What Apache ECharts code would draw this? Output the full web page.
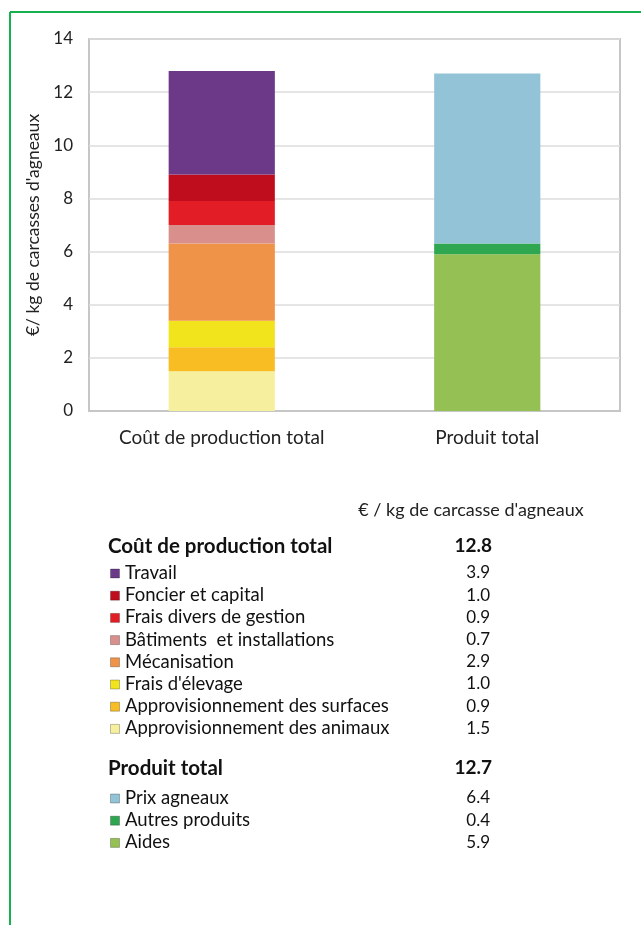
<!DOCTYPE html>
<html>
<head>
<meta charset="utf-8">
<script src="https://cdn.jsdelivr.net/npm/echarts@6/dist/echarts.min.js"></script>
<style>
  html, body { margin: 0; padding: 0; background: #fff; }
  #chart { width: 641px; height: 925px; }
</style>
</head>
<body>
<div id="chart"></div>
<script>
var categories = ['Coût de production total', 'Produit total'];

// cost items, bottom of the stack first
var costNames = ['Approvisionnement des animaux', 'Approvisionnement des surfaces', "Frais d'élevage",
    'Mécanisation', 'Bâtiments  et installations', 'Frais divers de gestion', 'Foncier et capital', 'Travail'];
var costValues = [1.5, 0.9, 1.0, 2.9, 0.7, 0.9, 1.0, 3.9];
var costColors = ['#f6f09e', '#f8bd22', '#f1e41c', '#ef9348', '#d98f8c', '#e31d25', '#c00d1e', '#6b3988'];

// product items, bottom of the stack first
var productNames = ['Aides', 'Autres produits', 'Prix agneaux'];
var productValues = [5.9, 0.4, 6.4];
var productColors = ['#95c053', '#2fa650', '#93c3d6'];

var yTicks = [0, 2, 4, 6, 8, 10, 12, 14];

var font = 'Lato, "Open Sans", sans-serif';
var chart = echarts.init(document.getElementById('chart'));

function sum(a) {
    return a.reduce(function (s, v) { return s + v; }, 0);
}

var series = [];
costNames.forEach(function (name, i) {
    series.push({
        name: name,
        type: 'bar',
        stack: 'total',
        barWidth: '40%',
        itemStyle: { color: costColors[i] },
        data: [costValues[i], '-']
    });
});
productNames.forEach(function (name, i) {
    series.push({
        name: name,
        type: 'bar',
        stack: 'total',
        barWidth: '40%',
        itemStyle: { color: productColors[i] },
        data: ['-', productValues[i]]
    });
});

// green frame + table under the chart
var graphic = [
    { type: 'line', shape: { x1: 10, y1: 12, x2: 641, y2: 12 }, style: { stroke: '#16b14c', lineWidth: 2 } },
    { type: 'line', shape: { x1: 10, y1: 12, x2: 10, y2: 925 }, style: { stroke: '#16b14c', lineWidth: 2 } },
    { type: 'text', x: 471, y: 510, style: { text: "€ / kg de carcasse d'agneaux", font: '18px ' + font, fill: '#222', align: 'center', verticalAlign: 'middle' } }
];

function addBlock(title, names, values, colors, top, rowTop) {
    graphic.push({ type: 'text', x: 108, y: top, style: { text: title, font: 'bold 20.5px ' + font, fill: '#111', verticalAlign: 'middle' } });
    graphic.push({ type: 'text', x: 492, y: top, style: { text: sum(values).toFixed(1), font: 'bold 19px ' + font, fill: '#111', align: 'right', verticalAlign: 'middle' } });
    // table lists the top of the stack first
    for (var k = names.length - 1, r = 0; k >= 0; k--, r++) {
        var y = rowTop + r * 22.2;
        graphic.push({ type: 'rect', shape: { x: 110.5, y: y - 4, width: 9, height: 9 }, style: { fill: colors[k], stroke: 'rgba(0,0,0,0.25)', lineWidth: 1 } });
        graphic.push({ type: 'text', x: 125, y: y, style: { text: names[k], font: '18.5px ' + font, fill: '#111', verticalAlign: 'middle' } });
        graphic.push({ type: 'text', x: 490, y: y, style: { text: values[k].toFixed(1), font: '17px ' + font, fill: '#111', align: 'right', verticalAlign: 'middle' } });
    }
}
addBlock(categories[0], costNames, costValues, costColors, 546, 573);
addBlock(categories[1], productNames, productValues, productColors, 768, 798);

var option = {
    animation: false,
    backgroundColor: '#fff',
    textStyle: { fontFamily: font },
    grid: {
        left: 89, top: 39, right: 21, bottom: 514,
        show: true, borderColor: '#c6c6c6', borderWidth: 2
    },
    xAxis: {
        type: 'category',
        data: categories,
        axisLine: { lineStyle: { color: '#c6c6c6', width: 2 } },
        axisTick: { show: false },
        axisLabel: { color: '#222', fontSize: 19, margin: 17, interval: 0, fontFamily: font }
    },
    yAxis: {
        type: 'value',
        min: yTicks[0],
        max: yTicks[yTicks.length - 1],
        interval: yTicks[1] - yTicks[0],
        name: "€/ kg de carcasses d'agneaux",
        nameLocation: 'middle',
        nameRotate: 90,
        nameGap: 47,
        nameTextStyle: { color: '#222', fontSize: 17.5, fontFamily: font },
        axisLine: { show: false },
        axisTick: { show: false },
        axisLabel: { color: '#222', fontSize: 17, margin: 16, fontFamily: font },
        splitLine: { lineStyle: { color: '#dcdcdc', width: 1.5 } }
    },
    series: series,
    graphic: graphic
};

chart.setOption(option);
</script>
</body>
</html>
